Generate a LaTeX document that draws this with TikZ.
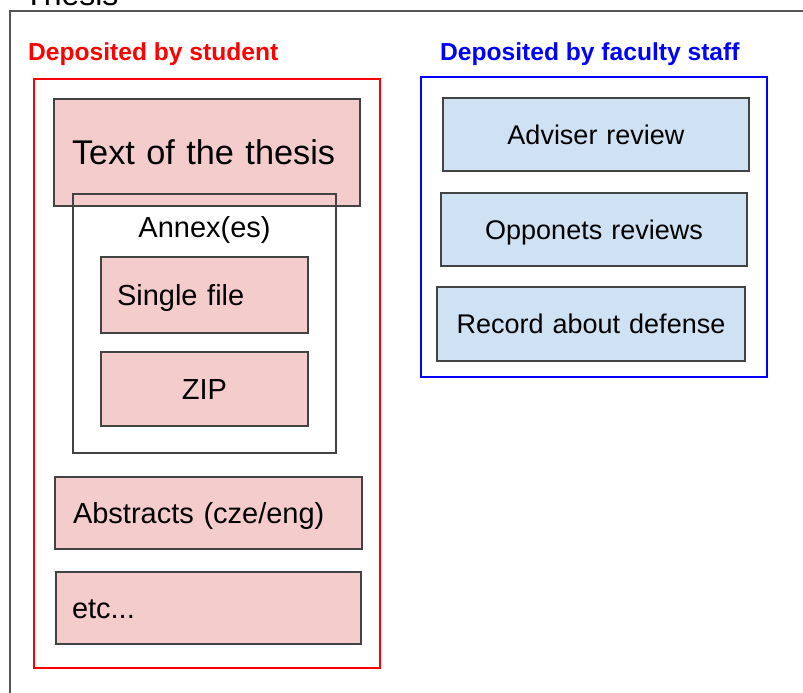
\documentclass[tikz,border=0pt]{standalone}
\usepackage{fontspec}
\setmainfont{Liberation Sans}
\definecolor{pinkfill}{HTML}{F4CCCC}
\definecolor{bluefill}{HTML}{CFE2F3}
\definecolor{boxline}{HTML}{434343}
\definecolor{outerline}{HTML}{555555}
\definecolor{redline}{HTML}{FF0000}
\definecolor{blueline}{HTML}{0000FF}
\tikzset{
  basebox/.style={draw=boxline, line width=1.5pt, inner ysep=0pt, outer sep=0pt},
  pinkbox/.style={basebox, fill=pinkfill, font=\fontsize{29}{34}\selectfont, text height=26.6pt, text depth=5.8pt},
  bluebox/.style={basebox, fill=bluefill, font=\fontsize{27}{32}\selectfont, text height=24.7pt, text depth=5.4pt, align=center},
  leftpad/.style={inner xsep=#1, align=left},
  grouplabel/.style={anchor=base west, inner sep=0pt, font=\bfseries\fontsize{24.6}{29}\selectfont},
}
\begin{document}
\begin{tikzpicture}[x=1pt, y=-1pt]
\useasboundingbox (0,0) rectangle (803,693);
% outer Thesis frame
\node[anchor=base west, inner sep=0pt, font=\fontsize{32}{38}\selectfont] (thesistitle) at (24,6) {Thesis};
\draw[outerline, line width=1.5pt] (820,11) -- (10,11) -- (10,710);
% group labels
\node[grouplabel, text=redline] (studentlabel) at (28,60) {Deposited by student};
\node[grouplabel, text=blueline] (stafflabel) at (440,60) {Deposited by faculty staff};
% group frames
\node[draw=redline, line width=1.2pt, minimum width=346pt, minimum height=589pt, inner sep=0pt] (studentframe) at (207,373.5) {};
\node[draw=blueline, line width=1.2pt, minimum width=346pt, minimum height=300pt, inner sep=0pt] (staffframe) at (594,227) {};
% student items
\node[pinkbox, leftpad=18pt, text width=270pt, minimum height=107pt, font=\fontsize{34.3}{40}\selectfont, text height=31.5pt, text depth=6.9pt] (thesistext) at (207,152.5) {Text of the thesis};
\node[basebox, minimum width=263pt, minimum height=259pt, inner sep=0pt] (annex) at (204.5,323.5) {};
\node[anchor=base, inner sep=0pt, font=\fontsize{29}{34}\selectfont] (annextitle) at (204.5,237) {Annex(es)};
\node[pinkbox, leftpad=16pt, text width=175pt, minimum height=76pt] (singlefile) at (204.5,295) {Single file};
\node[pinkbox, align=center, text width=175pt, inner xsep=16pt, minimum height=74pt] (zip) at (204.5,389) {ZIP};
\node[pinkbox, leftpad=18pt, text width=271pt, minimum height=72pt] (abstracts) at (208.5,513) {Abstracts (cze/eng)};
\node[pinkbox, leftpad=16pt, text width=273pt, minimum height=72pt] (etc) at (208.5,608) {etc...};
% staff items
\node[bluebox, text width=280pt, inner xsep=13pt, minimum height=73pt] (adviser) at (596,134.5) {Adviser review};
\node[bluebox, text width=280pt, inner xsep=13pt, minimum height=73pt] (opponents) at (594,229.5) {Opponets reviews};
\node[bluebox, text width=282pt, inner xsep=13pt, minimum height=74pt] (record) at (591,324) {Record about defense};
\end{tikzpicture}
\end{document}
